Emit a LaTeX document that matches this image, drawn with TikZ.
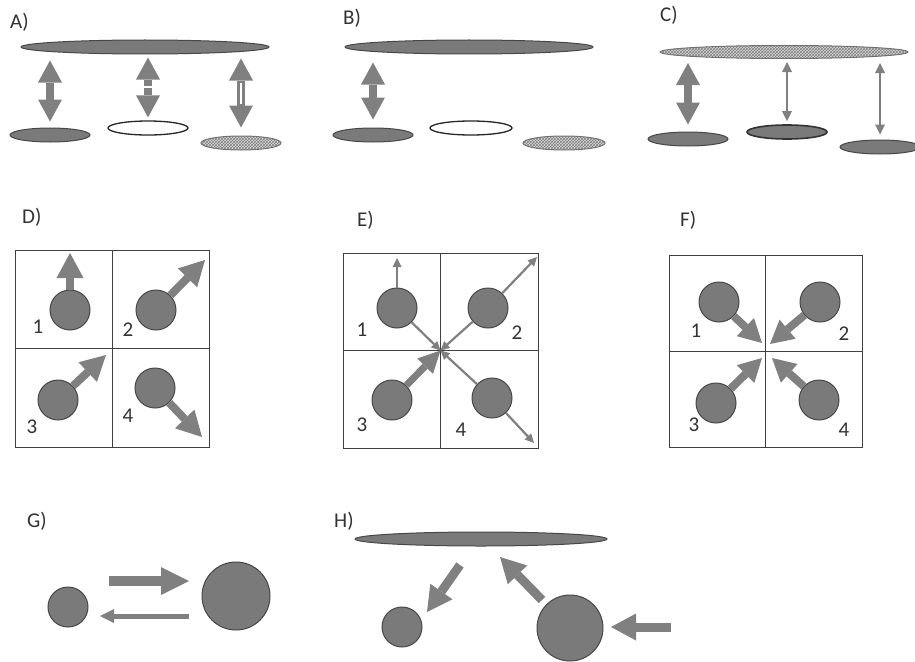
\documentclass[tikz,border=0pt]{standalone}
\usepackage{fontspec}
\setmainfont{Carlito}
\usetikzlibrary{arrows.meta,shapes.geometric,patterns,calc}
\definecolor{arrowgray}{HTML}{808080}
\definecolor{ballfill}{HTML}{7A7A7A}
\definecolor{ballline}{HTML}{474747}
\definecolor{boxline}{HTML}{404040}
\definecolor{txtgray}{HTML}{333333}
\definecolor{hatchbg}{HTML}{DADADA}
\tikzset{
 lbl/.style={anchor=base west, text=txtgray, font=\fontsize{21}{25}\selectfont, inner sep=0},
 num/.style={text=txtgray, font=\fontsize{21}{24}\selectfont, inner sep=0},
 ell/.style={ellipse, inner sep=0, minimum height=14pt, line width=1pt},
 darkell/.style={ell, fill=ballfill, draw=ballline},
 whiteell/.style={ell, fill=white, draw=black!85, line width=1.3pt},
 hatchell/.style={ell, fill=hatchbg, draw=ballline!80, postaction={pattern=crosshatch, pattern color=gray}},
 ball/.style={circle, inner sep=0, fill=ballfill, draw=ballline, line width=1pt},
 gridbox/.style={draw=boxline, line width=0.9pt, inner sep=0},
 gridline/.style={draw=boxline, line width=0.9pt},
 fat/.style={draw=arrowgray, line width=8pt, -{Triangle[width=24pt,length=22pt,line width=0pt]}},
 fatboth/.style={draw=arrowgray, line width=8pt, {Triangle[width=24pt,length=22pt,line width=0pt]}-{Triangle[width=24pt,length=22pt,line width=0pt]}},
 thinboth/.style={draw=arrowgray, line width=2.4pt, {Triangle[width=10pt,length=10pt,line width=0pt]}-{Triangle[width=10pt,length=10pt,line width=0pt]}},
 thinone/.style={draw=arrowgray, line width=2.2pt, -{Triangle[width=9pt,length=9pt,line width=0pt]}},
 fatD/.style={draw=arrowgray, line width=8pt, -{Triangle[width=27pt,length=25pt,line width=0pt]}},
 fatE/.style={draw=arrowgray, line width=7pt, -{Triangle[width=22pt,length=22pt,line width=0pt]}},
 fatF/.style={draw=arrowgray, line width=8pt, -{Triangle[width=25pt,length=23pt,line width=0pt]}},
 fatG/.style={draw=arrowgray, line width=10pt, -{Triangle[width=28pt,length=28pt,line width=0pt]}},
 thinG/.style={draw=arrowgray, line width=5pt, -{Triangle[width=14pt,length=14pt,line width=0pt]}},
 fatH/.style={draw=arrowgray, line width=9pt, -{Triangle[width=27pt,length=25pt,line width=0pt]}},
}
\begin{document}
\begin{tikzpicture}[x=1pt,y=-1pt]
\useasboundingbox[fill=white] (0,0) rectangle (915,661);

% ---------- A ----------
\node[lbl] (la) at (10,29) {A)};
\node[darkell, minimum width=248pt] (a0) at (145,47) {};
\node[darkell, minimum width=80pt] (a1) at (50,135) {};
\node[whiteell, minimum width=80pt] (a2) at (148,128) {};
\node[hatchell, minimum width=80pt] (a3) at (241,143) {};
\draw[fatboth, shorten <=6pt, shorten >=6pt] (a1.north |- a0.south) -- (a1.north);
\coordinate (a2m) at ($(a0.south -| a2.north)!0.5!(a2.north)$);
\draw[fat, shorten <=1pt, shorten >=3pt] (a2m) -- (a0.south -| a2.north);
\draw[fat, shorten <=1pt, shorten >=3pt] (a2m) -- (a2.north);
\draw[fatboth, shorten <=4pt, shorten >=8pt] (a3.north |- a0.south) -- (a3.north);
\draw[white, line width=2.4pt, shorten <=28pt, shorten >=32pt] (a3.north |- a0.south) -- (a3.north);

% ---------- B ----------
\node[lbl] (lb) at (343,25) {B)};
\node[darkell, minimum width=248pt] (b0) at (469,47) {};
\node[darkell, minimum width=80pt] (b1) at (373,135) {};
\node[whiteell, minimum width=82pt] (b2) at (471,128) {};
\node[hatchell, minimum width=82pt] (b3) at (564,143) {};
\draw[fatboth, shorten <=8pt, shorten >=8pt] (b1.north |- b0.south) -- (b1.north);

% ---------- C ----------
\node[lbl] (lc) at (660,22) {C)};
\node[hatchell, minimum width=248pt, minimum height=13pt] (c0) at (784,52) {};
\node[darkell, minimum width=80pt] (c1) at (688,139) {};
\node[darkell, minimum width=80pt, line width=1.6pt, draw=black!80] (c2) at (787,132) {};
\node[darkell, minimum width=80pt] (c3) at (880,147) {};
\draw[fatboth, shorten <=4pt, shorten >=7pt] (c1.north |- c0.south) -- (c1.north);
\draw[thinboth, shorten <=3pt, shorten >=3pt] (c2.north |- c0.south) -- (c2.north);
\draw[thinboth, shorten <=4pt, shorten >=5pt] (c3.north |- c0.south) -- (c3.north);

% ---------- D ----------
\node[lbl] (ld) at (22,223) {D)};
\node[gridbox, minimum width=194pt, minimum height=197pt] (dbox) at (112,348.5) {};
\draw[gridline] (dbox.north) -- (dbox.south);
\draw[gridline] (dbox.west) -- (dbox.east);
\node[ball, minimum size=40pt] (d1) at (70,310) {};
\node[ball, minimum size=40pt] (d2) at (156,310) {};
\node[ball, minimum size=40pt] (d3) at (58,400) {};
\node[ball, minimum size=40pt] (d4) at (155,388) {};
\coordinate (d1t) at (70,253);
\coordinate (d2t) at (205,260);
\coordinate (d3t) at (106,355);
\coordinate (d4t) at (202,437);
\draw[fatD] (d1) -- (d1t);
\draw[fatD] (d2) -- (d2t);
\draw[fatD] (d3) -- (d3t);
\draw[fatD] (d4) -- (d4t);
\node[num] (dn1) at (38,327) {1};
\node[num] (dn2) at (128,330) {2};
\node[num] (dn3) at (32,427) {3};
\node[num] (dn4) at (128,416) {4};

% ---------- E ----------
\node[lbl] (le) at (357,226) {E)};
\node[gridbox, minimum size=195pt] (ebox) at (440.5,350.5) {};
\draw[gridline] (ebox.north) -- (ebox.south);
\draw[gridline] (ebox.west) -- (ebox.east);
\node[ball, minimum size=40pt] (e1) at (397,308) {};
\node[ball, minimum size=40pt] (e2) at (488,308) {};
\node[ball, minimum size=40pt] (e3) at (392,400) {};
\node[ball, minimum size=40pt] (e4) at (492,398) {};
\coordinate (e1t) at (397,258);
\coordinate (e2t) at (537,257);
\coordinate (e4t) at (534,443);
\draw[thinone] (e1) -- (e1t);
\draw[thinone] (e1) -- (ebox.center);
\draw[thinone] (e2) -- (ebox.center);
\draw[thinone] (e2) -- (e2t);
\draw[fatE] (e3) -- (ebox.center);
\draw[thinone] (e4) -- (ebox.center);
\draw[thinone] (e4) -- (e4t);
\node[num] (en1) at (362,330) {1};
\node[num] (en2) at (517,333) {2};
\node[num] (en3) at (362,425) {3};
\node[num] (en4) at (461,430) {4};

% ---------- F ----------
\node[lbl] (lf) at (680,226) {F)};
\node[gridbox, minimum width=193pt, minimum height=192pt] (fbox) at (765.5,351) {};
\draw[gridline] (fbox.north) -- (fbox.south);
\draw[gridline] (fbox.west) -- (fbox.east);
\node[ball, minimum size=40pt] (f1) at (719,302) {};
\node[ball, minimum size=40pt] (f2) at (820,302) {};
\node[ball, minimum size=40pt] (f3) at (716,403) {};
\node[ball, minimum size=40pt] (f4) at (819,400) {};
\coordinate (f1t) at (762,343);
\coordinate (f2t) at (770,344);
\coordinate (f3t) at (762,358);
\coordinate (f4t) at (772,358);
\draw[fatF] (f1) -- (f1t);
\draw[fatF] (f2) -- (f2t);
\draw[fatF] (f3) -- (f3t);
\draw[fatF] (f4) -- (f4t);
\node[num] (fn1) at (696,331) {1};
\node[num] (fn2) at (844,334) {2};
\node[num] (fn3) at (694,425) {3};
\node[num] (fn4) at (844,430) {4};

% ---------- G ----------
\node[lbl] (lg) at (27,527) {G)};
\node[ball, minimum size=40pt] (g1) at (68,607) {};
\node[ball, minimum size=68pt] (g2) at (236,596) {};
\coordinate (ga1) at (109,581);
\coordinate (ga2) at (189,581);
\coordinate (gb1) at (189,616);
\coordinate (gb2) at (100,616);
\draw[fatG] (ga1) -- (ga2);
\draw[thinG] (gb1) -- (gb2);

% ---------- H ----------
\node[lbl] (lh) at (334,527) {H)};
\node[darkell, minimum width=252pt] (h0) at (481,539) {};
\node[ball, minimum size=40pt] (h1) at (402,627) {};
\node[ball, minimum size=66pt] (h2) at (570,628) {};
\coordinate (ha1) at (460,565);
\coordinate (ha2) at (427,612);
\coordinate (hb1) at (542,600);
\coordinate (hb2) at (500,557);
\coordinate (hc1) at (671,627);
\coordinate (hc2) at (611,627);
\draw[fatH] (ha1) -- (ha2);
\draw[fatH] (hb1) -- (hb2);
\draw[fatH] (hc1) -- (hc2);
\end{tikzpicture}
\end{document}
